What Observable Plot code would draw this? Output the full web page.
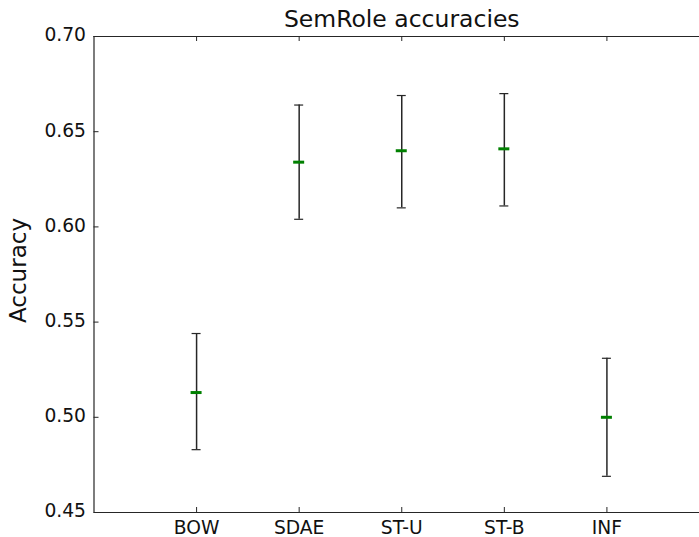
<!DOCTYPE html>
<html>
<head>
<meta charset="utf-8">
<script src="https://cdn.jsdelivr.net/npm/d3@7"></script>
<script src="https://cdn.jsdelivr.net/npm/@observablehq/plot@0.6"></script>
<style>
  html, body { margin: 0; padding: 0; background: #fff; overflow: hidden; }
  #chart svg { display: block; overflow: hidden; }
</style>
</head>
<body>
<div id="chart"></div>
<script>
// Semantic role classification accuracy per model, with error bars
const models = ["BOW", "SDAE", "ST-U", "ST-B", "INF"];
const meanAcc = [0.513, 0.634, 0.640, 0.641, 0.500];
const lowAcc  = [0.483, 0.604, 0.610, 0.611, 0.469];
const highAcc = [0.544, 0.664, 0.669, 0.670, 0.531];
const yTicks = [0.45, 0.50, 0.55, 0.60, 0.65, 0.70];

const rows = models.map((m, i) => ({model: m, pos: i + 1, mean: meanAcc[i], low: lowAcc[i], high: highAcc[i]}));
const xTicks = rows.map(d => d.pos);

const ink = "#262626";
const font = "DejaVu Sans";

// the axes box runs past the right edge of the drawing, so the x range is set explicitly
const chart = Plot.plot({
  width: 699,
  height: 537,
  marginLeft: 93.5,
  marginRight: 0,
  marginTop: 36,
  marginBottom: 25,
  style: {fontFamily: font, background: "#fff", color: ink},
  x: {domain: [0, 6], range: [93.5, 709]},
  y: {domain: [0.45, 0.70]},
  marks: [
    // frame: top, bottom and left spines
    Plot.ruleY([0.45, 0.70], {x1: 0, x2: 6, stroke: ink, strokeWidth: 1.2}),
    Plot.ruleX([0], {stroke: ink, strokeWidth: 1.2}),
    // inward ticks on left, top and bottom
    Plot.ruleY(yTicks, {y: d => d, x1: 0, x2: 0, insetLeft: 0, insetRight: -5, stroke: ink, strokeWidth: 1}),
    Plot.ruleX(xTicks, {x: d => d, y1: 0.45, y2: 0.45, insetTop: 0, insetBottom: 5, stroke: ink, strokeWidth: 1}),
    Plot.ruleX(xTicks, {x: d => d, y1: 0.70, y2: 0.70, insetTop: 5, insetBottom: 0, stroke: ink, strokeWidth: 1}),
    // tick labels
    Plot.axisY(yTicks, {tickSize: 0, tickPadding: 8, tickFormat: d3.format(".2f"), fontSize: 18.7, fill: "#111", label: null, dy: -1}),
    Plot.axisX(xTicks, {tickSize: 0, tickPadding: 8, tickFormat: d => models[d - 1], fontSize: 18.7, fill: "#111", label: null}),
    // error bars with caps
    Plot.ruleX(rows, {x: "pos", y1: "low", y2: "high", stroke: ink, strokeWidth: 1.5}),
    Plot.ruleY(rows, {y: "low", x1: "pos", x2: "pos", insetLeft: -4.5, insetRight: -4.5, stroke: ink, strokeWidth: 1.2}),
    Plot.ruleY(rows, {y: "high", x1: "pos", x2: "pos", insetLeft: -4.5, insetRight: -4.5, stroke: ink, strokeWidth: 1.2}),
    // mean markers
    Plot.ruleY(rows, {y: "mean", x1: "pos", x2: "pos", insetLeft: -5.5, insetRight: -5.5, stroke: "#008000", strokeWidth: 3}),
    // title and y label
    Plot.text(["SemRole accuracies"], {frameAnchor: "top", dx: 5, dy: -17, fontSize: 23.5, fill: "#111", lineAnchor: "middle"}),
    Plot.text(["Accuracy"], {frameAnchor: "left", dx: -75, dy: -4, rotate: -90, textAnchor: "middle", fontSize: 23, fill: "#111", lineAnchor: "middle"})
  ]
});

document.getElementById("chart").append(chart);
</script>
</body>
</html>
